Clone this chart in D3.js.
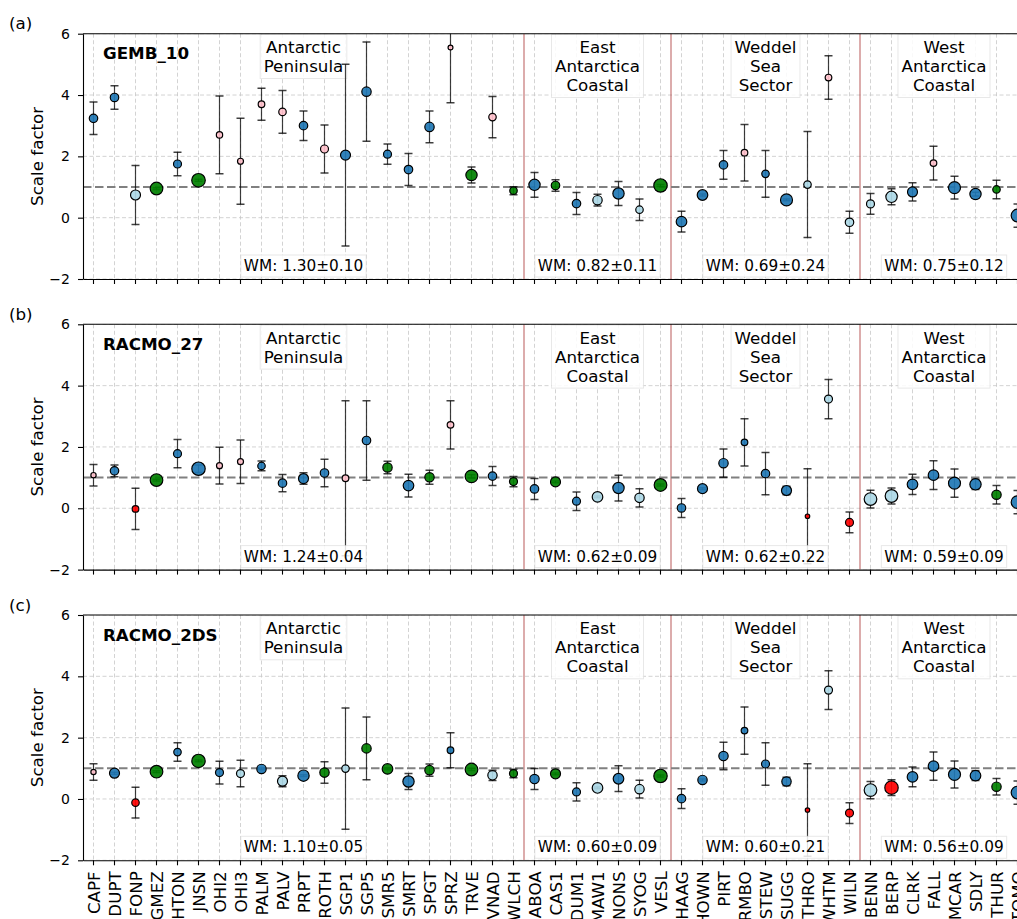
<!DOCTYPE html>
<html>
<head>
<meta charset="utf-8">
<script src="https://cdn.jsdelivr.net/npm/d3@7"></script>
<style>
  body { margin: 0; background: #fff; }
  svg { display: block; font-family: "DejaVu Sans", sans-serif; }
</style>
</head>
<body>
<svg id="chart" width="1017" height="919"></svg>
<script>
// GNSS stations, grouped by region
const stations = ["CAPF","DUPT","FONP","GMEZ","HTON","JNSN","OHI2","OHI3","PALM","PALV","PRPT","ROTH","SGP1","SGP5","SMR5","SMRT","SPGT","SPRZ","TRVE","VNAD","WLCH",
  "ABOA","CAS1","DUM1","MAW1","NONS","SYOG","VESL",
  "HAAG","HOWN","PIRT","RMBO","STEW","SUGG","THRO","WHTM","WILN",
  "BENN","BERP","CLRK","FALL","MCAR","SDLY","THUR","TOMO"];

const regionLabels = [["Antarctic","Peninsula"],["East","Antarctica","Coastal"],["Weddel","Sea","Sector"],["West","Antarctica","Coastal"]];
const regionFirst = ["CAPF","ABOA","HAAG","BENN"];
const regionLast  = ["WLCH","VESL","WILN","TOMO"];

const models = ["GEMB_10","RACMO_27","RACMO_2DS"];
const panelTags = ["(a)","(b)","(c)"];
const yTicks = [-2, 0, 2, 4, 6];
const referenceLevel = 1;

// Weighted means per region
const wmMeanA = [1.30, 0.82, 0.69, 0.75], wmErrA = [0.10, 0.11, 0.24, 0.12];
const wmMeanB = [1.24, 0.62, 0.62, 0.59], wmErrB = [0.04, 0.09, 0.22, 0.09];
const wmMeanC = [1.10, 0.60, 0.60, 0.56], wmErrC = [0.05, 0.09, 0.21, 0.09];

// Scale factors, 1-sigma errors, fit class and weight per station
const valA = [3.24,3.92,0.74,0.95,1.75,1.22,2.70,1.84,3.70,3.45,3.00,2.24,2.04,4.11,2.07,1.57,2.96,5.55,1.39,3.28,0.88,
  1.07,1.05,0.46,0.57,0.79,0.26,1.05,
  -0.13,0.74,1.72,2.12,1.43,0.58,1.08,4.57,-0.15,
  0.45,0.68,0.84,1.78,0.98,0.77,0.92,0.07];
const errA = [0.53,0.38,0.96,0.03,0.38,0.03,1.27,1.40,0.52,0.70,0.48,0.78,2.96,1.62,0.33,0.52,0.52,1.80,0.26,0.67,0.13,
  0.40,0.19,0.36,0.19,0.39,0.35,0.03,
  0.34,0.03,0.47,0.92,0.76,0.03,1.73,0.71,0.36,
  0.34,0.26,0.30,0.55,0.37,0.06,0.30,0.38];
const clsA = ["b","b","lb","g","b","g","p","p","p","p","b","p","b","b","b","b","b","p","g","p","g",
  "b","g","b","lb","b","lb","g",
  "b","b","b","p","b","b","lb","p","lb",
  "lb","lb","b","p","b","b","g","b"];
const wA = [18,18,25,40,16,46,10,9,11,14,18,16,25,22,16,18,22,6,32,14,14,
  32,18,18,22,32,14,45,
  28,28,18,11,14,36,14,11,18,
  16,32,25,11,36,32,14,40];

const valB = [1.08,1.22,-0.02,0.92,1.78,1.29,1.39,1.52,1.38,0.82,0.97,1.15,0.98,2.21,1.33,0.74,1.01,2.72,1.04,1.05,0.87,
  0.63,0.86,0.23,0.37,0.66,0.34,0.76,
  0.01,0.64,1.47,2.15,1.13,0.58,-0.26,3.56,-0.46,
  0.30,0.40,0.78,1.08,0.82,0.78,0.44,0.20];
const errB = [0.35,0.19,0.67,0.03,0.46,0.12,0.60,0.71,0.16,0.28,0.19,0.45,2.53,1.30,0.20,0.37,0.23,0.79,0.05,0.31,0.17,
  0.34,0.03,0.30,0.03,0.42,0.30,0.03,
  0.31,0.03,0.46,0.77,0.69,0.14,1.55,0.64,0.34,
  0.29,0.26,0.33,0.47,0.46,0.17,0.30,0.38];
const clsB = ["p","b","r","g","b","b","p","p","b","b","b","b","p","b","g","b","g","p","g","b","g",
  "b","g","b","lb","b","lb","g",
  "b","b","b","b","b","b","r","lb","r",
  "lb","lb","b","b","b","b","g","b"];
const wB = [7,18,11,40,16,45,9,9,14,18,25,18,11,18,22,28,22,11,40,18,16,
  18,25,16,28,32,22,40,
  18,25,22,11,18,25,5,16,16,
  40,40,28,28,36,32,22,40];

const valC = [0.88,0.84,-0.12,0.89,1.53,1.24,0.86,0.83,0.98,0.58,0.76,0.86,0.99,1.65,0.98,0.57,0.94,1.59,0.96,0.77,0.83,
  0.65,0.82,0.23,0.36,0.66,0.32,0.75,
  0.01,0.62,1.40,2.23,1.14,0.57,-0.36,3.55,-0.46,
  0.29,0.37,0.72,1.07,0.80,0.76,0.40,0.21];
const errC = [0.27,0.03,0.50,0.03,0.30,0.03,0.37,0.43,0.03,0.18,0.03,0.35,1.98,1.02,0.03,0.26,0.20,0.57,0.03,0.17,0.14,
  0.34,0.03,0.30,0.03,0.42,0.29,0.03,
  0.32,0.03,0.45,0.77,0.69,0.14,1.51,0.63,0.34,
  0.28,0.26,0.32,0.46,0.44,0.16,0.27,0.38];
const clsC = ["p","b","r","g","b","g","b","lb","b","lb","b","g","lb","g","g","b","g","b","g","lb","g",
  "b","g","b","lb","b","lb","g",
  "b","b","b","b","b","b","r","lb","r",
  "lb","r","b","b","b","b","g","b"];
const wC = [7,25,14,40,14,45,16,16,22,25,32,22,14,22,28,32,22,11,40,22,16,
  22,25,16,28,28,22,45,
  18,22,22,11,16,22,5,16,16,
  40,45,28,28,36,28,22,40];

const panelVals = [valA, valB, valC];
const panelErrs = [errA, errB, errC];
const panelCls  = [clsA, clsB, clsC];
const panelW    = [wA, wB, wC];
const panelWmMean = [wmMeanA, wmMeanB, wmMeanC];
const panelWmErr  = [wmErrA, wmErrB, wmErrC];

// ---- layout ----
const svg = d3.select("#chart");
const plotLeft = 83, plotRight = 1028;
const panelTops = [33.7, 324.3, 615];
const panelHeight = 245.3;

const x = d3.scaleBand().domain(stations).range([plotLeft, plotRight]);
const xc = s => x(s) + x.bandwidth() / 2;
const color = d3.scaleOrdinal().domain(["b","lb","g","p","r"])
  .range(["#1f77b4","#add8e6","#008000","#ffc0cb","#ff0000"]);
const radius = d3.scaleSqrt().domain([0, 49]).range([0, 7]);

function boxedText(g, lines, cx, baseline0, lineStep, size, pad, fillOpacity) {
  const t = g.append("text")
    .attr("text-anchor", "middle")
    .attr("font-size", size)
    .attr("fill", "#000");
  lines.forEach((ln, i) => {
    t.append("tspan").attr("x", cx).attr("y", baseline0 + i * lineStep).text(ln);
  });
  const bb = t.node().getBBox();
  g.insert("rect", () => t.node())
    .attr("x", bb.x - pad).attr("y", bb.y - pad + 1)
    .attr("width", bb.width + 2 * pad).attr("height", bb.height + 2 * pad - 2)
    .attr("fill", "#fff").attr("fill-opacity", fillOpacity)
    .attr("stroke", "#d9d9d9").attr("stroke-opacity", 0.6).attr("stroke-width", 1);
}

panelTops.forEach((top, k) => {
  const bottom = top + panelHeight;
  const y = d3.scaleLinear().domain([-2, 6]).range([bottom, top]);
  const g = svg.append("g");

  const clipId = "clip" + k;
  svg.append("clipPath").attr("id", clipId).append("rect")
    .attr("x", plotLeft).attr("y", top).attr("width", plotRight - plotLeft).attr("height", panelHeight);

  const plot = g.append("g").attr("clip-path", `url(#${clipId})`);

  // grid
  plot.append("g").selectAll("line").data(stations).join("line")
    .attr("x1", d => xc(d)).attr("x2", d => xc(d)).attr("y1", top).attr("y2", bottom)
    .attr("stroke", "#c8c8c8").attr("stroke-width", 0.8).attr("stroke-dasharray", "4,2.5");
  plot.append("g").selectAll("line").data(yTicks).join("line")
    .attr("x1", plotLeft).attr("x2", plotRight).attr("y1", d => y(d)).attr("y2", d => y(d))
    .attr("stroke", "#c8c8c8").attr("stroke-width", 0.8).attr("stroke-dasharray", "4,2.5");

  // region labels
  regionLabels.forEach((lines, r) => {
    const cx = (xc(regionFirst[r]) + xc(regionLast[r])) / 2;
    boxedText(plot, lines, cx, top + 19.3, 19, 16.7, 3.5, 0.85);
  });

  // region separators
  regionFirst.slice(1).forEach(s => {
    const sx = x(s);
    plot.append("line").attr("x1", sx).attr("x2", sx).attr("y1", top).attr("y2", bottom)
      .attr("stroke", "#a52a2a").attr("stroke-opacity", 0.6).attr("stroke-width", 1.3);
  });

  // reference level
  plot.append("line")
    .attr("x1", plotLeft).attr("x2", plotRight)
    .attr("y1", y(referenceLevel)).attr("y2", y(referenceLevel))
    .attr("stroke", "#808080").attr("stroke-width", 2).attr("stroke-dasharray", "8.5,3.5");

  const data = stations.map((s, i) => ({
    s, v: panelVals[k][i], e: panelErrs[k][i], c: panelCls[k][i], w: panelW[k][i]
  }));

  // error bars
  const eb = plot.append("g").attr("stroke", "#000").attr("stroke-opacity", 0.75).attr("stroke-width", 1.2);
  data.forEach(d => {
    const cx = xc(d.s);
    eb.append("line").attr("x1", cx).attr("x2", cx).attr("y1", y(d.v + d.e)).attr("y2", y(d.v - d.e));
    [d.v + d.e, d.v - d.e].forEach(v => {
      eb.append("line").attr("x1", cx - 4).attr("x2", cx + 4).attr("y1", y(v)).attr("y2", y(v))
        .attr("stroke-width", 1.5);
    });
  });

  // stations
  plot.append("g").selectAll("circle").data(data).join("circle")
    .attr("cx", d => xc(d.s)).attr("cy", d => y(d.v)).attr("r", d => radius(d.w))
    .attr("fill", d => color(d.c)).attr("fill-opacity", 0.92)
    .attr("stroke", "#000").attr("stroke-width", 1.2);

  // weighted means
  regionFirst.forEach((f, r) => {
    const cx = (xc(f) + xc(regionLast[r])) / 2;
    const txt = `WM: ${panelWmMean[k][r].toFixed(2)}±${panelWmErr[k][r].toFixed(2)}`;
    boxedText(plot, [txt], cx, bottom - 8, 0, 15.3, 3, 0.85);
  });

  // model name
  g.append("text").attr("x", plotLeft + 20).attr("y", top + 25.5)
    .attr("font-size", 16.7).attr("font-weight", "bold").text(models[k]);

  // axes
  const ya = g.append("g").attr("transform", `translate(${plotLeft},0)`)
    .call(d3.axisLeft(y).tickValues(yTicks).tickSize(5).tickSizeOuter(0).tickPadding(8));
  ya.selectAll("text").attr("font-size", 14).attr("font-family", "DejaVu Sans").attr("fill", "#000");
  ya.selectAll("line, path").attr("stroke", "#000").attr("stroke-width", 1.1);

  const xa = g.append("g").attr("transform", `translate(0,${bottom})`)
    .call(d3.axisBottom(x).tickSize(5).tickSizeOuter(0));
  xa.selectAll("line, path").attr("stroke", "#000").attr("stroke-width", 1.1);
  if (k === panelTops.length - 1) {
    xa.selectAll("text")
      .attr("font-size", 16.7).attr("font-family", "DejaVu Sans").attr("fill", "#000")
      .attr("text-anchor", "end")
      .attr("transform", "rotate(-90)")
      .attr("x", -11).attr("y", 0).attr("dy", "0.36em");
  } else {
    xa.selectAll("text").remove();
  }

  // top spine
  g.append("line").attr("x1", plotLeft).attr("x2", plotRight).attr("y1", top).attr("y2", top)
    .attr("stroke", "#000").attr("stroke-width", 1.1);

  // y label and panel tag
  g.append("text").attr("transform", `translate(43,${(top + bottom) / 2}) rotate(-90)`)
    .attr("text-anchor", "middle").attr("font-size", 16.7).text("Scale factor");
  g.append("text").attr("x", 9).attr("y", top - 4.5).attr("font-size", 16.7).text(panelTags[k]);
});
</script>
</body>
</html>
